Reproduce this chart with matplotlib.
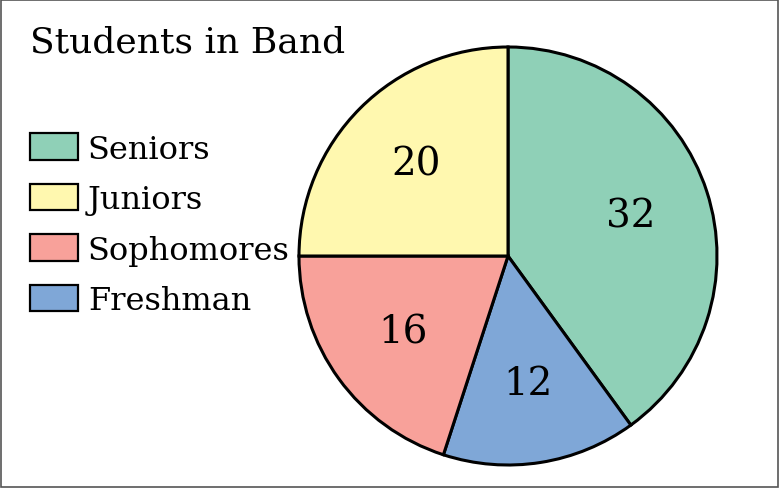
import matplotlib.pyplot as plt
from matplotlib.patches import Rectangle

plt.rcParams['font.family'] = ['DejaVu Serif']

# data
groups = ["Seniors", "Freshman", "Sophomores", "Juniors"]
counts = [32, 12, 16, 20]
colors = ["#8FD0B7", "#7FA7D7", "#F8A19A", "#FFF8AF"]
legend_order = ["Seniors", "Juniors", "Sophomores", "Freshman"]

W, H = 779, 489
fig = plt.figure(figsize=(W / 100, H / 100), dpi=100)
ax = fig.add_axes([0, 0, 1, 1])
ax.set_xlim(0, W)
ax.set_ylim(0, H)
ax.set_aspect("equal")
ax.axis("off")

wedges, texts = ax.pie(counts, colors=colors, startangle=90, counterclock=False,
                       center=(508, H - 257), radius=209,
                       labels=[str(c) for c in counts], labeldistance=0.62,
                       wedgeprops=dict(edgecolor="black", linewidth=2.2),
                       textprops=dict(fontsize=28, ha="center", va="center"))
ax.set_xlim(0, W)
ax.set_ylim(0, H)

ax.text(30, H - 43, "Students in Band", fontsize=26, va="center", ha="left")

handles = [wedges[groups.index(g)] for g in legend_order]
leg = ax.legend(handles, legend_order, loc="upper left",
                bbox_to_anchor=(8 / W, 1 - 112 / H), frameon=False,
                fontsize=23, handlelength=1.5, handleheight=0.9,
                handletextpad=0.3, labelspacing=0.6, borderpad=0.2)
for p in leg.get_patches():
    p.set_linewidth(1.6)

fig.patches.append(Rectangle((1 / W, 1 / H), (W - 2) / W, (H - 2) / H,
                             transform=fig.transFigure, fill=False,
                             edgecolor="#555555", linewidth=1.2))

plt.savefig("out.png", dpi=100)
